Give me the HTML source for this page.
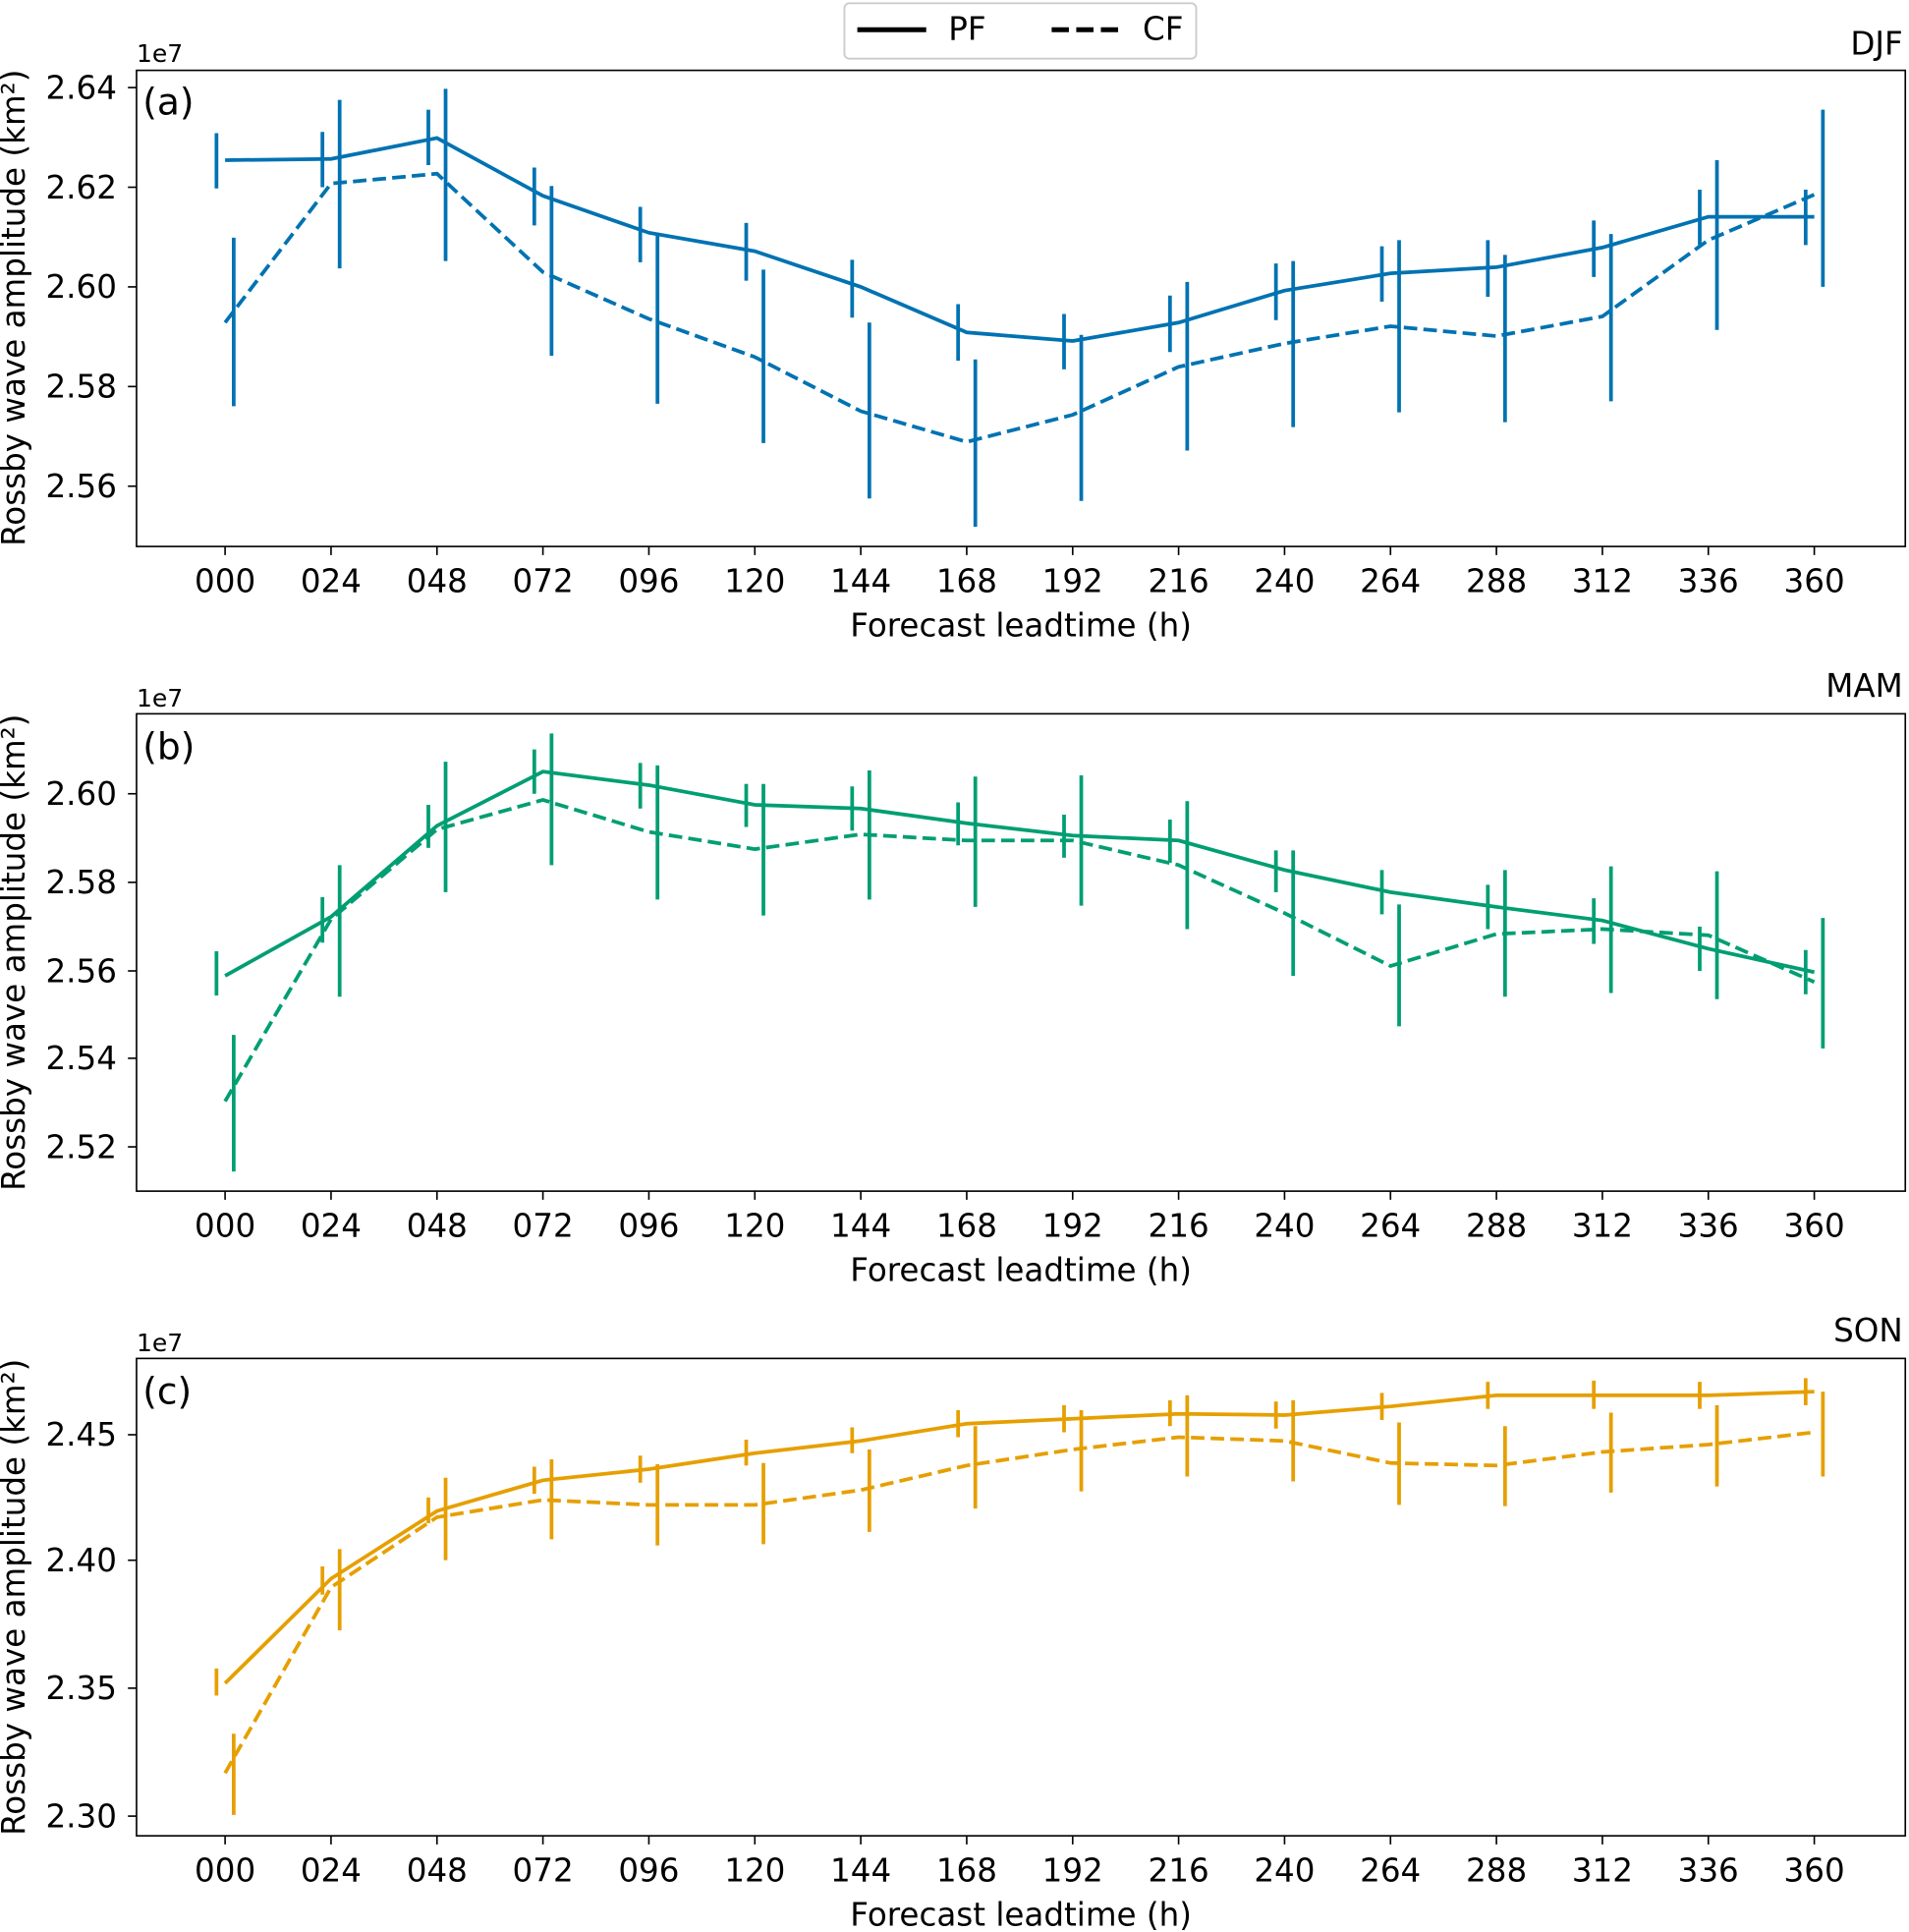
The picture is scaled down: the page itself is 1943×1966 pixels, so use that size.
<!DOCTYPE html>
<html><head><meta charset="utf-8"><style>
html,body{margin:0;padding:0;background:#fff;}
svg{display:block;}
text{font-family:"DejaVu Sans","Liberation Sans",sans-serif;fill:#000;}
</style></head><body>
<svg id="s" width="1943" height="1966" viewBox="0 0 1552 1570" xmlns="http://www.w3.org/2000/svg">
<rect width="1552" height="1570" fill="#fff"/>
<g id="plots"></g>
<!-- legend -->
<rect x="686.5" y="2.5" width="286" height="45" rx="4" fill="#fff" stroke="#ccc" stroke-width="1.5"/>
<line x1="697" y1="24" x2="753" y2="24" stroke="#000" stroke-width="4"/>
<text x="771" y="32" font-size="26">PF</text>
<line x1="855" y1="24" x2="911" y2="24" stroke="#000" stroke-width="4" stroke-dasharray="14,6"/>
<text x="929" y="32" font-size="26">CF</text>

<g font-size="26">
<text x="116" y="93" font-size="30">(a)</text>
<text x="1547" y="44" text-anchor="end">DJF</text>
<text x="111" y="50" font-size="20">1e7</text>
<g text-anchor="end"><text x="95" y="80">2.64</text><text x="95" y="161">2.62</text><text x="95" y="242">2.60</text><text x="95" y="323">2.58</text><text x="95" y="404">2.56</text></g>
<text transform="translate(20,250) rotate(-90)" text-anchor="middle">Rossby wave amplitude (km²)</text>
<g text-anchor="middle"><text x="183" y="481">000</text><text x="269.1" y="481">024</text><text x="355.3" y="481">048</text><text x="441.4" y="481">072</text><text x="527.5" y="481">096</text><text x="613.7" y="481">120</text><text x="699.8" y="481">144</text><text x="785.9" y="481">168</text><text x="872" y="481">192</text><text x="958.2" y="481">216</text><text x="1044.3" y="481">240</text><text x="1130.4" y="481">264</text><text x="1216.6" y="481">288</text><text x="1302.7" y="481">312</text><text x="1388.8" y="481">336</text><text x="1475" y="481">360</text>
<text x="830" y="517">Forecast leadtime (h)</text></g>
</g>
<g font-size="26">
<text x="116" y="617" font-size="30">(b)</text>
<text x="1547" y="566" text-anchor="end">MAM</text>
<text x="111" y="574" font-size="20">1e7</text>
<g text-anchor="end"><text x="95" y="654">2.60</text><text x="95" y="726">2.58</text><text x="95" y="798">2.56</text><text x="95" y="869">2.54</text><text x="95" y="941">2.52</text></g>
<text transform="translate(20,774) rotate(-90)" text-anchor="middle">Rossby wave amplitude (km²)</text>
<g text-anchor="middle"><text x="183" y="1005">000</text><text x="269.1" y="1005">024</text><text x="355.3" y="1005">048</text><text x="441.4" y="1005">072</text><text x="527.5" y="1005">096</text><text x="613.7" y="1005">120</text><text x="699.8" y="1005">144</text><text x="785.9" y="1005">168</text><text x="872" y="1005">192</text><text x="958.2" y="1005">216</text><text x="1044.3" y="1005">240</text><text x="1130.4" y="1005">264</text><text x="1216.6" y="1005">288</text><text x="1302.7" y="1005">312</text><text x="1388.8" y="1005">336</text><text x="1475" y="1005">360</text>
<text x="830" y="1041">Forecast leadtime (h)</text></g>
</g>
<g font-size="26">
<text x="116" y="1141" font-size="30">(c)</text>
<text x="1547" y="1090" text-anchor="end">SON</text>
<text x="111" y="1098" font-size="20">1e7</text>
<g text-anchor="end"><text x="95" y="1175">2.45</text><text x="95" y="1277">2.40</text><text x="95" y="1381">2.35</text><text x="95" y="1485">2.30</text></g>
<text transform="translate(20,1298) rotate(-90)" text-anchor="middle">Rossby wave amplitude (km²)</text>
<g text-anchor="middle"><text x="183" y="1529">000</text><text x="269.1" y="1529">024</text><text x="355.3" y="1529">048</text><text x="441.4" y="1529">072</text><text x="527.5" y="1529">096</text><text x="613.7" y="1529">120</text><text x="699.8" y="1529">144</text><text x="785.9" y="1529">168</text><text x="872" y="1529">192</text><text x="958.2" y="1529">216</text><text x="1044.3" y="1529">240</text><text x="1130.4" y="1529">264</text><text x="1216.6" y="1529">288</text><text x="1302.7" y="1529">312</text><text x="1388.8" y="1529">336</text><text x="1475" y="1529">360</text>
<text x="830" y="1565">Forecast leadtime (h)</text></g>
</g>
</svg>
<script>
(function(){
var NS="http://www.w3.org/2000/svg",g=document.getElementById("plots");
function el(t,a){var e=document.createElementNS(NS,t);for(var k in a)e.setAttribute(k,a[k]);g.appendChild(e);return e;}
function X(i){return 183+i*86.133;}
var panels=[
{top:57,bot:444,yt:[71,152,233,314,395],c:"#0072B2",
pf:[[130,108,153],[129,107,152],[112,89,134],[159,136,183],[189,168,213],[204,181,228],[233,211,258],[270,247,293],[277,255,300],[262,240,286],[236,214,260],[222,200,245],[217,195,241],[201,179,225],[176,154,199],[176,154,199]],
cf:[[262,193,330],[149,81,218],[141,72,212],[221,151,289],[259,189,328],[290,219,360],[334,262,405],[359,292,428],[337,272,407],[298,229,366],[279,212,347],[265,195,335],[273,207,343],[257,190,326],[195,130,268],[158,89,233]]},
{top:580,bot:968,yt:[645,717,789,860,932],c:"#009E73",
pf:[[793,773,809],[745,729,766],[671,654,689],[627,609,645],[638,620,657],[654,637,672],[657,639,675],[669,652,687],[679,662,697],[683,666,701],[707,691,725],[725,707,743],[737,719,755],[748,730,767],[771,753,789],[790,772,808]],
cf:[[895,841,952],[747,703,810],[674,619,725],[650,596,703],[676,622,731],[690,637,744],[678,626,731],[683,631,737],[683,630,736],[703,651,755],[742,691,793],[785,735,834],[759,707,810],[755,704,807],[760,708,812],[798,746,852]]},
{top:1104,bot:1492,yt:[1166,1268,1372,1476],c:"#E69F00",
pf:[[1368,1356,1378],[1283,1273,1296],[1228,1217,1238],[1203,1192,1214],[1194,1183,1205],[1181,1170,1191],[1171,1160,1181],[1157,1146,1168],[1153,1142,1164],[1149,1138,1159],[1150,1139,1161],[1143,1132,1154],[1134,1123,1145],[1134,1122,1145],[1134,1123,1145],[1131,1120,1142]],
cf:[[1441,1409,1475],[1290,1259,1325],[1233,1201,1268],[1219,1186,1251],[1223,1190,1256],[1223,1189,1255],[1211,1178,1245],[1191,1159,1226],[1178,1146,1212],[1168,1134,1200],[1171,1138,1204],[1189,1156,1223],[1191,1159,1224],[1180,1148,1213],[1174,1142,1208],[1164,1131,1200]]}
];
panels.forEach(function(p){
  var i,d;
  for(i=0;i<16;i++) el("line",{x1:X(i),x2:X(i),y1:p.bot,y2:p.bot+7,stroke:"#000","stroke-width":1.3});
  p.yt.forEach(function(y){el("line",{x1:104,x2:111,y1:y,y2:y,stroke:"#000","stroke-width":1.3});});
  d="";p.pf.forEach(function(v,i){d+=(i?"L":"M")+X(i)+","+v[0];});
  el("path",{d:d,fill:"none",stroke:p.c,"stroke-width":3});
  d="";p.cf.forEach(function(v,i){d+=(i?"L":"M")+X(i)+","+v[0];});
  el("path",{d:d,fill:"none",stroke:p.c,"stroke-width":3,"stroke-dasharray":"11,5"});
  p.pf.forEach(function(v,i){el("line",{x1:X(i)-7,x2:X(i)-7,y1:v[1],y2:v[2],stroke:p.c,"stroke-width":3});});
  p.cf.forEach(function(v,i){el("line",{x1:X(i)+7,x2:X(i)+7,y1:v[1],y2:v[2],stroke:p.c,"stroke-width":3});});
  el("rect",{x:111,y:p.top,width:1438,height:p.bot-p.top,fill:"none",stroke:"#000","stroke-width":1.3});
});
})();
</script>
</body></html>
